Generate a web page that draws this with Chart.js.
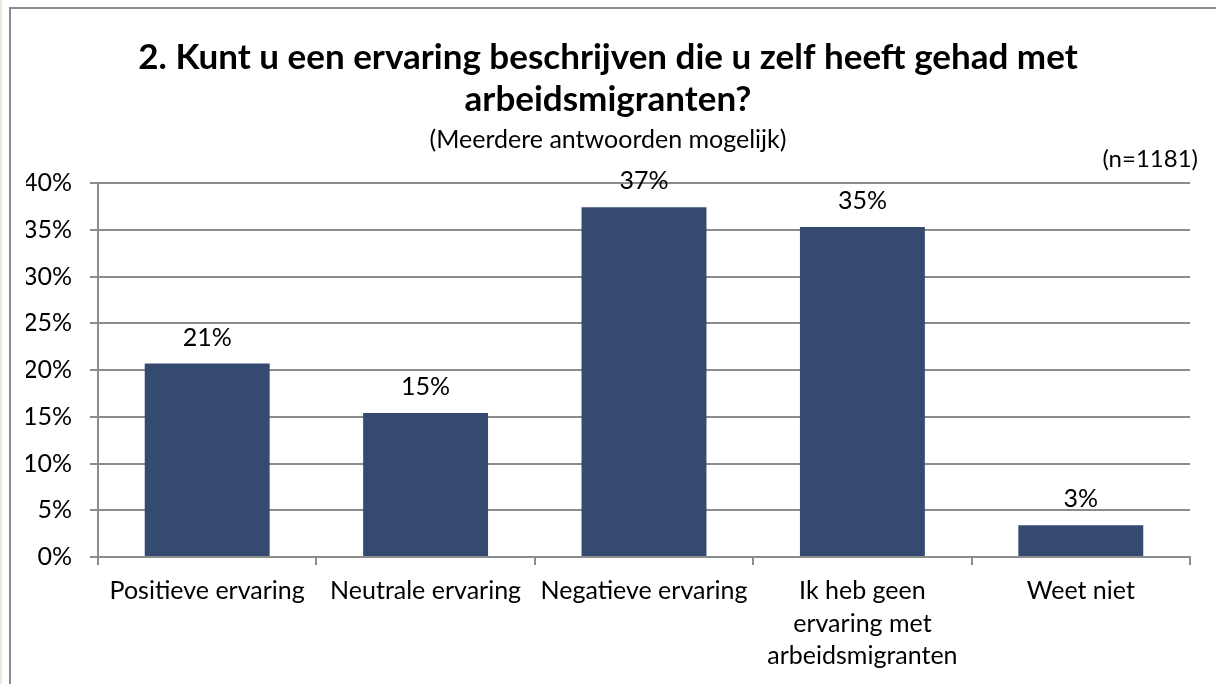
<!DOCTYPE html>
<html>
<head>
<meta charset="utf-8">
<script src="https://cdn.jsdelivr.net/npm/chart.js@4/dist/chart.umd.min.js"></script>
<style>
  html, body { margin: 0; padding: 0; background: #ffffff; }
  #wrap { position: relative; width: 1216px; height: 684px; overflow: hidden; background: #fff; }
  #strip { position: absolute; left: 0; top: 0; width: 2px; height: 684px; background: #ece9dc; }
  #frame { position: absolute; left: 9px; top: 7px; width: 1220px; height: 700px; border-left: 2px solid #8a8a8a; border-top: 2px solid #8a8a8a; }
  canvas { position: absolute; left: 0; top: 0; }
</style>
</head>
<body>
<div id="wrap">
  <div id="strip"></div>
  <div id="frame"></div>
  <canvas id="c" width="1216" height="684"></canvas>
</div>
<script>
const titleLines = ["2. Kunt u een ervaring beschrijven die u zelf heeft gehad met", "arbeidsmigranten?"];
const subtitleText = "(Meerdere antwoorden mogelijk)";
const sampleNote = "(n=1181)";
const categories = [
  "Positieve ervaring",
  "Neutrale ervaring",
  "Negatieve ervaring",
  ["Ik heb geen", "ervaring met", "arbeidsmigranten"],
  "Weet niet"
];
const values = [20.7, 15.4, 37.4, 35.3, 3.4];
const yMin = 0, yMax = 40, yStep = 5;

const FONT = "Lato, 'Open Sans', sans-serif";
const GRID = "#8c8c8c";
const BAR = "#354A71";

const labelPlugin = {
  id: "valueLabels",
  afterDatasetsDraw(chart) {
    const ctx = chart.ctx;
    const meta = chart.getDatasetMeta(0);
    ctx.save();
    ctx.font = "25px " + FONT;
    ctx.fillStyle = "#000";
    ctx.textAlign = "center";
    ctx.textBaseline = "middle";
    meta.data.forEach((el, i) => {
      ctx.fillText(Math.round(values[i]) + "%", el.x, el.y - 26);
    });
    ctx.restore();
  }
};
const notePlugin = {
  id: "note",
  afterDraw(chart) {
    const ctx = chart.ctx;
    const a = chart.chartArea;
    ctx.save();
    ctx.font = "24px " + FONT;
    ctx.fillStyle = "#000";
    ctx.textAlign = "right";
    ctx.textBaseline = "middle";
    ctx.fillText(sampleNote, a.right + 8, a.top - 24);
    ctx.restore();
  }
};

new Chart(document.getElementById("c"), {
  type: "bar",
  data: {
    labels: categories,
    datasets: [{
      data: values,
      backgroundColor: BAR,
      borderWidth: 0,
      barPercentage: 0.572,
      categoryPercentage: 1.0
    }]
  },
  options: {
    responsive: false,
    devicePixelRatio: 1,
    animation: false,
    layout: { padding: { left: 26, right: 26, top: 0, bottom: 0 } },
    plugins: {
      legend: { display: false },
      tooltip: { enabled: false },
      title: {
        display: true,
        text: titleLines,
        color: "#000",
        font: { family: FONT, size: 35, weight: "bold", lineHeight: 1.2 },
        padding: { top: 37, bottom: 0 }
      },
      subtitle: {
        display: true,
        text: subtitleText,
        color: "#000",
        font: { family: FONT, size: 25, lineHeight: 1.2 },
        padding: { top: 4, bottom: 28 }
      }
    },
    scales: {
      x: {
        offset: true,
        grid: { offset: true, drawOnChartArea: false, drawTicks: true, tickLength: 8, color: GRID, lineWidth: 2 },
        border: { display: true, color: GRID, width: 2 },
        ticks: { color: "#000", padding: 10, maxRotation: 0, autoSkip: false, font: { family: FONT, size: 25, lineHeight: 1.3 } },
        afterFit(scale) { scale.height = 127; }
      },
      y: {
        min: yMin, max: yMax,
        grid: { drawTicks: true, tickLength: 8, color: GRID, lineWidth: 2 },
        border: { display: true, color: GRID, width: 2 },
        ticks: { stepSize: yStep, color: "#000", padding: 18, font: { family: FONT, size: 25 }, callback: v => v + "%" },
        afterFit(scale) { scale.width = 72; }
      }
    }
  },
  plugins: [labelPlugin, notePlugin]
});
</script>
</body>
</html>
